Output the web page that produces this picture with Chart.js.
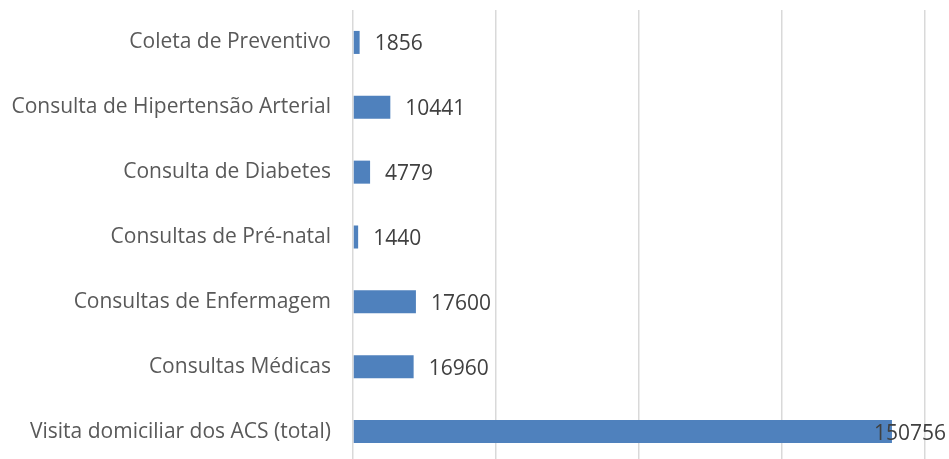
<!DOCTYPE html>
<html>
<head>
<meta charset="utf-8">
<script src="https://cdn.jsdelivr.net/npm/chart.js@4"></script>
<style>
html,body{margin:0;padding:0;background:#fff;overflow:hidden;}
#wrap{width:949px;height:464px;}
</style>
</head>
<body>
<div id="wrap"><canvas id="c" width="949" height="464"></canvas></div>
<script>
const categories = [
  "Coleta de Preventivo",
  "Consulta de Hipertensão Arterial",
  "Consulta de Diabetes",
  "Consultas de Pré-natal",
  "Consultas de Enfermagem",
  "Consultas Médicas",
  "Visita domiciliar dos ACS (total)"
];
const values = [1856, 10441, 4779, 1440, 17600, 16960, 150756];
const axisMax = 160000;
const axisStep = 40000;

const labelPlugin = {
  id: 'valueLabels',
  afterDatasetsDraw(chart) {
    const ctx = chart.ctx;
    const meta = chart.getDatasetMeta(0);
    ctx.save();
    ctx.font = '21px "Open Sans"';
    ctx.fillStyle = '#404040';
    ctx.textBaseline = 'middle';
    ctx.textAlign = 'left';
    meta.data.forEach((bar, i) => {
      const txt = String(values[i]);
      const w = ctx.measureText(txt).width;
      let x = bar.x + 15;
      if (x + w > chart.width - 3) x = chart.width - 3 - w;
      ctx.fillText(txt, x, bar.y + 2);
    });
    ctx.restore();
  }
};

new Chart(document.getElementById('c'), {
  type: 'bar',
  data: {
    labels: categories,
    datasets: [{
      data: values,
      backgroundColor: '#4f81bd',
      borderWidth: 0,
      categoryPercentage: 1,
      barPercentage: 0.355
    }]
  },
  options: {
    indexAxis: 'y',
    responsive: false,
    animation: false,
    layout: { padding: { top: 10, right: 24, bottom: 0, left: 0 } },
    plugins: { legend: { display: false }, tooltip: { enabled: false } },
    scales: {
      x: {
        min: 0, max: axisMax,
        ticks: { display: false, stepSize: axisStep },
        grid: { color: '#d9d9d9', lineWidth: 1.5, drawTicks: false },
        border: { display: false },
        afterFit(s) { s.height = 0; s.paddingLeft = 0; s.paddingRight = 0; }
      },
      y: {
        ticks: { color: '#595959', font: { family: 'Open Sans', size: 21 }, padding: 22 },
        grid: { display: false, drawTicks: false },
        border: { display: false },
        afterFit(s) { s.width = 353; s.paddingTop = 0; s.paddingBottom = 0; }
      }
    }
  },
  plugins: [labelPlugin]
});
</script>
</body>
</html>
